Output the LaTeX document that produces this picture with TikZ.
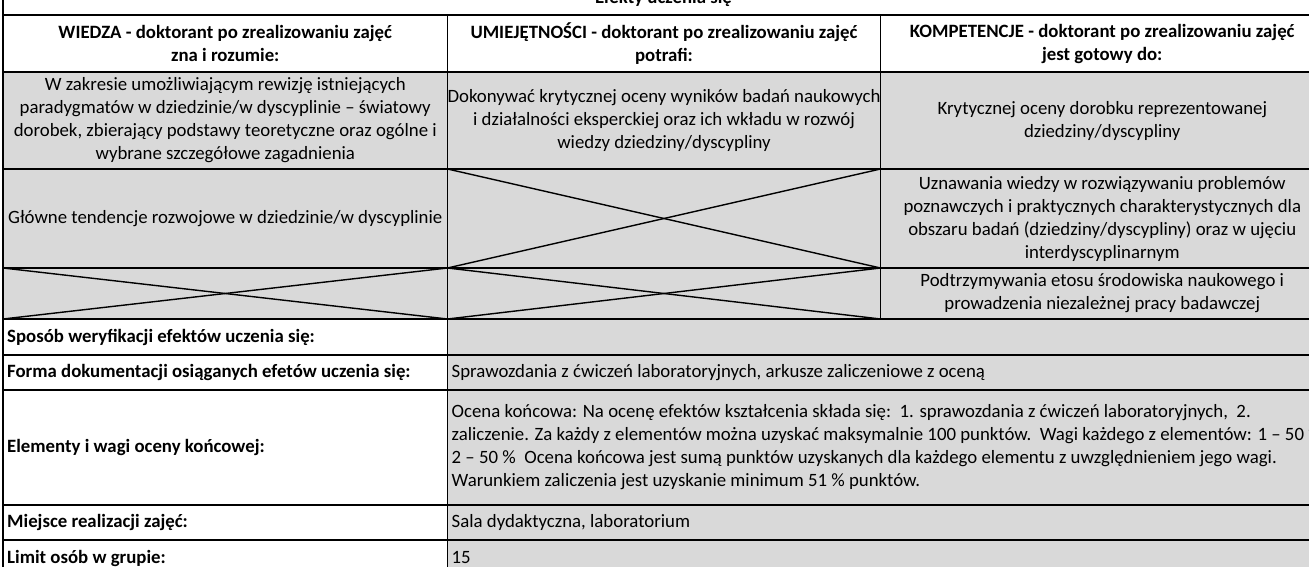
\documentclass[tikz,border=0pt]{standalone}
\usepackage{fontspec}
\setmainfont{Carlito}
\definecolor{cellgray}{HTML}{D9D9D9}
\newcommand{\cellfont}{\fontsize{18.8}{23}\selectfont}
\begin{document}
\begin{tikzpicture}[x=1pt,y=-1pt,
  cell/.style={draw=black, line width=1.6pt, rectangle, inner sep=0pt, outer sep=0pt},
  grayc/.style={cell, fill=cellgray},
  whitec/.style={cell, fill=white},
  body/.style={font=\cellfont, inner sep=0pt, align=center},
  bhead/.style={font=\bfseries\cellfont, inner sep=0pt, align=center},
  lbl/.style={font=\bfseries\cellfont, inner sep=0pt, anchor=west},
  val/.style={font=\cellfont, inner sep=0pt, anchor=west, align=left},
  cross/.style={line width=1.4pt}]
\useasboundingbox (0,0) rectangle (1309,567);
\clip (0,0) rectangle (1309,567);
% title row
\node[whitec, minimum width=1321pt, minimum height=45pt] (title) at (663.5,-7.5) {};
\node[bhead, anchor=base] (ttitle) at (663.5,4) {Efekty uczenia się};
% header row
\node[whitec, minimum width=444.5pt, minimum height=57pt] (h1) at (225.25,43.5) {};
\node[whitec, minimum width=433pt, minimum height=57pt] (h2) at (664,43.5) {};
\node[whitec, minimum width=443.5pt, minimum height=57pt] (h3) at (1102.25,43.5) {};
\node[bhead] (th1) at (h1.center) {WIEDZA - doktorant po zrealizowaniu zajęć\\zna i rozumie:};
\node[bhead] (th2) at (h2.center) {UMIEJĘTNOŚCI - doktorant po zrealizowaniu zajęć\\potrafi:};
\node[bhead] (th3) at (h3.center) {KOMPETENCJE - doktorant po zrealizowaniu zajęć\\jest gotowy do:};
% row 1
\node[grayc, minimum width=444.5pt, minimum height=97pt] (a1) at (225.25,120.5) {};
\node[grayc, minimum width=433pt, minimum height=97pt] (a2) at (664,120.5) {};
\node[grayc, minimum width=443.5pt, minimum height=97pt] (a3) at (1102.25,120.5) {};
\node[body] (ta1) at (a1.center) {W zakresie umożliwiającym rewizję istniejących\\paradygmatów w dziedzinie/w dyscyplinie – światowy\\dorobek, zbierający podstawy teoretyczne oraz ogólne i\\wybrane szczegółowe zagadnienia};
\node[body] (ta2) at (a2.center) {Dokonywać krytycznej oceny wyników badań naukowych\\i działalności eksperckiej oraz ich wkładu w rozwój\\wiedzy dziedziny/dyscypliny};
\node[body] (ta3) at (a3.center) {Krytycznej oceny dorobku reprezentowanej\\dziedziny/dyscypliny};
% row 2
\node[grayc, minimum width=444.5pt, minimum height=99pt] (b1) at (225.25,218.5) {};
\node[grayc, minimum width=433pt, minimum height=99pt] (b2) at (664,218.5) {};
\node[grayc, minimum width=443.5pt, minimum height=99pt] (b3) at (1102.25,218.5) {};
\node[body] (tb1) at (b1.center) {Główne tendencje rozwojowe w dziedzinie/w dyscyplinie};
\node[body] (tb3) at (b3.center) {Uznawania wiedzy w rozwiązywaniu problemów\\poznawczych i praktycznych charakterystycznych dla\\obszaru badań (dziedziny/dyscypliny) oraz w ujęciu\\interdyscyplinarnym};
\draw[cross] (b2.north west) -- (b2.south east);
\draw[cross] (b2.south west) -- (b2.north east);
% row 3
\node[grayc, minimum width=444.5pt, minimum height=51pt] (c1) at (225.25,293.5) {};
\node[grayc, minimum width=433pt, minimum height=51pt] (c2) at (664,293.5) {};
\node[grayc, minimum width=443.5pt, minimum height=51pt] (c3) at (1102.25,293.5) {};
\node[body] (tc3) at (c3.center) {Podtrzymywania etosu środowiska naukowego i\\prowadzenia niezależnej pracy badawczej};
\draw[cross] (c1.north west) -- (c1.south east);
\draw[cross] (c1.south west) -- (c1.north east);
\draw[cross] (c2.north west) -- (c2.south east);
\draw[cross] (c2.south west) -- (c2.north east);
% bottom rows
\node[whitec, minimum width=444.5pt, minimum height=36pt] (l4) at (225.25,337) {};
\node[grayc, minimum width=876.5pt, minimum height=36pt] (v4) at (885.75,337) {};
\node[whitec, minimum width=444.5pt, minimum height=35pt] (l5) at (225.25,372.5) {};
\node[grayc, minimum width=876.5pt, minimum height=35pt] (v5) at (885.75,372.5) {};
\node[whitec, minimum width=444.5pt, minimum height=115pt] (l6) at (225.25,447.5) {};
\node[grayc, minimum width=876.5pt, minimum height=115pt] (v6) at (885.75,447.5) {};
\node[whitec, minimum width=444.5pt, minimum height=35pt] (l7) at (225.25,522.5) {};
\node[grayc, minimum width=876.5pt, minimum height=35pt] (v7) at (885.75,522.5) {};
\node[whitec, minimum width=444.5pt, minimum height=36pt] (l8) at (225.25,558) {};
\node[grayc, minimum width=876.5pt, minimum height=36pt] (v8) at (885.75,558) {};
\node[lbl] (tl4) at ([xshift=4pt]l4.west) {Sposób weryfikacji efektów uczenia się:};
\node[lbl] (tl5) at ([xshift=4pt]l5.west) {Forma dokumentacji osiąganych efetów uczenia się:};
\node[lbl] (tl6) at ([xshift=4pt]l6.west) {Elementy i wagi oceny końcowej:};
\node[lbl] (tl7) at ([xshift=4pt]l7.west) {Miejsce realizacji zajęć:};
\node[lbl] (tl8) at ([xshift=4pt]l8.west) {Limit osób w grupie:};
\node[val] (tv5) at ([xshift=4pt]v5.west) {Sprawozdania z ćwiczeń laboratoryjnych, arkusze zaliczeniowe z oceną};
\node[val] (tv6) at ([xshift=4pt]v6.west) {Ocena końcowa: Na ocenę efektów kształcenia składa się:\ \ 1. sprawozdania z ćwiczeń laboratoryjnych,\ \ 2.\\zaliczenie. Za każdy z elementów można uzyskać maksymalnie 100 punktów.\ \ Wagi każdego z elementów: 1 – 50 \%\\2 – 50 \%\ \ Ocena końcowa jest sumą punktów uzyskanych dla każdego elementu z uwzględnieniem jego wagi.\\Warunkiem zaliczenia jest uzyskanie minimum 51 \% punktów.};
\node[val] (tv7) at ([xshift=4pt]v7.west) {Sala dydaktyczna, laboratorium};
\node[val] (tv8) at ([xshift=4pt]v8.west) {15};
\end{tikzpicture}
\end{document}
